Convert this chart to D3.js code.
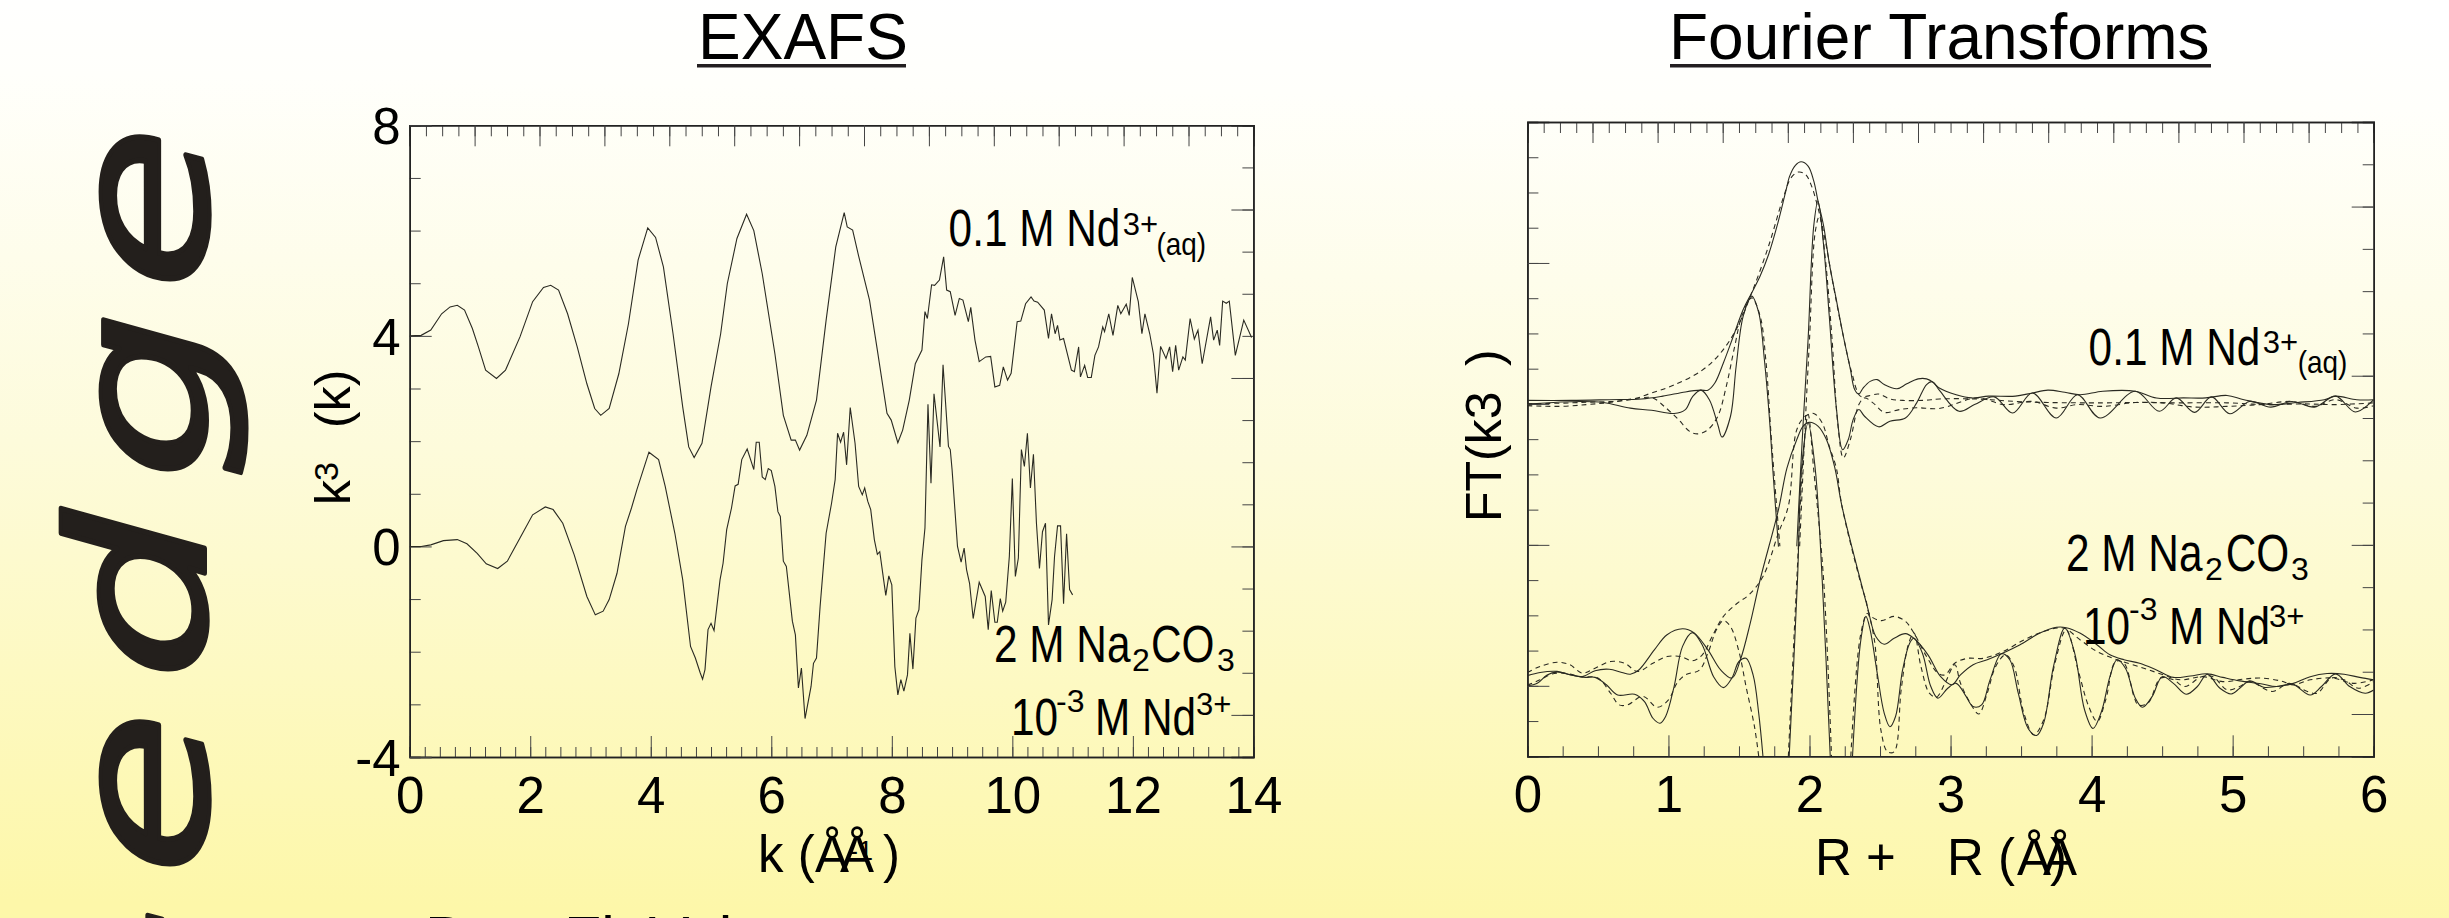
<!DOCTYPE html>
<html>
<head>
<meta charset="utf-8">
<script src="https://cdnjs.cloudflare.com/ajax/libs/d3/7.8.5/d3.min.js"></script>
<style>
html, body {margin: 0; padding: 0; background: #fff; overflow: hidden;}
svg {display: block;}
text {font-family: "Liberation Sans", Arial, sans-serif; fill: #000;}
.axis path {stroke: #222; stroke-width: 1.5; fill: none;}
.axis line {stroke: #444; stroke-width: 1;}
.axis text {font-size: 51px; font-family: "Liberation Sans", Arial, sans-serif; fill: #000;}
.curve {fill: none; stroke: #2a2a22; stroke-width: 1.1;}
.curve.dash {stroke-dasharray: 5 4;}
</style>
</head>
<body>
<div id="chart"></div>
<script>
// EXAFS ticks
var exafsXTicks = [0, 2, 4, 6, 8, 10, 12, 14];
var exafsYTicks = [-4, 0, 4, 8];
// FT ticks (R axis only is labelled)
var ftXTicks = [0, 1, 2, 3, 4, 5, 6];

// 0.1 M Nd3+(aq), k vs k3 chi(k)
var exafsAq = [[0,4],[.19,4.01],[.35,4.11],[.53,4.42],[.67,4.55],[.79,4.58],[.91,4.49],[1.04,4.14],[1.14,3.79],[1.26,3.35],[1.44,3.19],[1.59,3.35],[1.83,3.98],[2.04,4.65],[2.22,4.92],[2.34,4.96],[2.47,4.87],[2.62,4.42],[2.78,3.79],[2.94,3.09],[3.07,2.62],[3.17,2.49],[3.31,2.62],[3.47,3.28],[3.63,4.23],[3.79,5.44],[3.95,6.05],[4.08,5.87],[4.21,5.31],[4.37,4.04],[4.53,2.65],[4.63,1.89],[4.72,1.69],[4.85,1.96],[5,3.03],[5.16,4.04],[5.27,4.99],[5.43,5.85],[5.59,6.31],[5.71,6],[5.85,5.18],[6.06,3.66],[6.2,2.49],[6.33,2.02],[6.4,2.02],[6.47,1.83],[6.59,2.11],[6.75,2.78],[6.91,4.3],[7.07,5.69],[7.21,6.34],[7.26,6.07],[7.35,6.01],[7.44,5.56],[7.63,4.68],[7.76,3.73],[7.92,2.53],[7.99,2.4],[8.1,1.97],[8.18,2.21],[8.29,2.78],[8.39,3.47],[8.5,3.73],[8.55,4.46],[8.59,4.33],[8.66,4.97],[8.71,4.96],[8.79,5.06],[8.86,5.5],[8.91,4.87],[8.97,4.84],[9.05,4.39],[9.12,4.71],[9.18,4.68],[9.27,4.27],[9.31,4.54],[9.38,3.92],[9.45,3.51],[9.56,3.6],[9.64,3.61],[9.71,3.03],[9.79,3.06],[9.85,3.41],[9.92,3.16],[9.98,3.29],[10.08,4.27],[10.14,4.28],[10.22,4.61],[10.31,4.74],[10.36,4.66],[10.42,4.64],[10.53,4.49],[10.6,3.95],[10.65,4.42],[10.71,4.04],[10.75,4.2],[10.79,3.92],[10.85,3.95],[10.98,3.35],[11.03,3.32],[11.1,3.79],[11.13,3.22],[11.2,3.44],[11.25,3.21],[11.31,3.21],[11.37,3.63],[11.43,3.79],[11.5,4.17],[11.53,4.08],[11.6,4.42],[11.67,4.01],[11.75,4.58],[11.8,4.42],[11.89,4.6],[11.94,4.39],[11.99,5.11],[12.09,4.65],[12.15,4.04],[12.2,4.42],[12.28,4.04],[12.34,3.66],[12.4,2.91],[12.46,3.8],[12.55,3.57],[12.61,3.79],[12.66,3.32],[12.71,3.82],[12.76,3.35],[12.83,3.6],[12.87,3.54],[12.95,4.33],[13.02,3.94],[13.08,4.11],[13.15,3.47],[13.29,4.36],[13.34,3.92],[13.4,4.11],[13.44,3.82],[13.49,4.66],[13.55,4.62],[13.6,4.66],[13.7,3.63],[13.84,4.3],[13.97,3.97]];

// 2 M Na2CO3 / 10-3 M Nd3+
var exafsCarb = [[0,0],[.19,0],[.35,.03],[.56,.11],[.79,.13],[.95,.05],[1.12,-.13],[1.27,-.33],[1.46,-.42],[1.62,-.28],[1.83,.16],[2.04,.6],[2.25,.75],[2.38,.7],[2.54,.44],[2.73,-.16],[2.94,-.95],[3.08,-1.3],[3.21,-1.23],[3.31,-1.01],[3.44,-.51],[3.58,.38],[3.68,.73],[3.77,1.08],[3.97,1.79],[4.13,1.65],[4.24,1.14],[4.4,.25],[4.53,-.63],[4.66,-1.9],[4.74,-2.12],[4.82,-2.4],[4.86,-2.52],[4.9,-2.34],[4.95,-1.58],[5,-1.46],[5.05,-1.6],[5.15,-.63],[5.2,-.32],[5.26,.32],[5.34,.73],[5.4,1.15],[5.45,1.18],[5.51,1.65],[5.6,1.85],[5.71,1.46],[5.75,1.98],[5.8,1.98],[5.85,1.32],[5.9,1.27],[5.95,1.48],[6,1.44],[6.06,1.14],[6.11,.66],[6.15,.57],[6.2,-.28],[6.25,-.38],[6.35,-1.42],[6.4,-1.68],[6.45,-2.69],[6.5,-2.31],[6.56,-3.27],[6.66,-2.66],[6.7,-2.22],[6.75,-2.12],[6.81,-1.14],[6.86,-.44],[6.91,.25],[7,.82],[7.06,1.27],[7.1,2.15],[7.15,1.98],[7.2,2.17],[7.25,1.55],[7.31,2.64],[7.39,1.96],[7.45,1.14],[7.51,.98],[7.55,1.11],[7.6,.86],[7.65,.7],[7.71,.13],[7.76,-.15],[7.8,-.1],[7.9,-.93],[7.95,-.56],[8,-.73],[8.05,-2.28],[8.1,-2.82],[8.15,-2.53],[8.2,-2.75],[8.26,-2.44],[8.3,-1.65],[8.35,-2.33],[8.4,-1.36],[8.45,-1.2],[8.5,-.25],[8.55,.35],[8.6,2.7],[8.65,1.2],[8.7,2.9],[8.8,1.89],[8.85,3.45],[8.94,1.9],[8.97,1.84],[9,1.46],[9.09,0],[9.15,-.3],[9.2,-.03],[9.24,-.44],[9.29,-.7],[9.35,-1.37],[9.45,-.68],[9.55,-.95],[9.6,-1.58],[9.65,-.84],[9.71,-1.44],[9.75,-1.44],[9.8,-.99],[9.84,-1.23],[9.89,-1.06],[9.95,-.19],[10,1.29],[10.05,-.57],[10.1,-.22],[10.15,1.84],[10.2,1.52],[10.25,2.15],[10.3,1.11],[10.35,1.75],[10.4,.44],[10.45,-.42],[10.5,.28],[10.55,.44],[10.6,-1.49],[10.66,-1.01],[10.7,-.19],[10.75,.39],[10.8,.39],[10.85,-1.09],[10.9,.24],[10.95,-.82],[11,-.92]];

// FT of the aqueous sample: magnitude and imaginary part, data (solid) and fit (dashed)
var ftAqMag = [[0,10.1],[.31,10.1],[.58,10.12],[.81,10.14],[.96,10.22],[1.12,10.34],[1.23,10.39],[1.28,10.39],[1.33,10.6],[1.39,11.17],[1.46,11.92],[1.53,12.68],[1.59,13.15],[1.65,13.63],[1.71,14.24],[1.77,15.05],[1.83,16],[1.86,16.47],[1.9,16.77],[1.94,16.87],[1.99,16.75],[2.03,16.33],[2.06,15.76],[2.1,15.05],[2.14,14],[2.19,12.96],[2.24,11.92],[2.29,10.98],[2.32,10.41],[2.35,10.28],[2.38,10.45],[2.43,10.64],[2.48,10.69],[2.53,10.55],[2.62,10.43],[2.69,10.57],[2.77,10.71],[2.83,10.71],[2.88,10.6],[2.92,10.45],[3.04,10.26],[3.15,10.17],[3.27,10.22],[3.46,10.22],[3.58,10.31],[3.69,10.39],[3.81,10.33],[3.92,10.26],[4.08,10.36],[4.31,10.36],[4.46,10.17],[4.65,10.17],[4.81,10.17],[4.96,10.24],[5.08,10.12],[5.27,9.98],[5.46,10.04],[5.65,10.12],[5.73,10.22],[5.88,10.12],[6,10.12]];
var ftAqImag = [[0,10],[.38,10.07],[.54,10.04],[.73,9.88],[.88,9.82],[1.04,9.73],[1.12,9.84],[1.17,10.2],[1.23,10.39],[1.29,10.12],[1.35,9.41],[1.38,9.06],[1.44,9.65],[1.48,11.07],[1.53,12.49],[1.59,13.06],[1.64,12.59],[1.68,11.26],[1.72,9.37],[1.74,8.13],[1.78,5.95],[1.85,null],[1.91,5.96],[1.93,7.6],[1.955,9.46],[1.99,11.83],[2.03,15.05],[2.06,15.76],[2.1,14.5],[2.14,12.5],[2.19,9.9],[2.235,8.7],[2.275,8.99],[2.31,9.56],[2.35,9.84],[2.39,9.65],[2.49,9.35],[2.57,9.51],[2.68,9.6],[2.76,10.03],[2.83,10.55],[2.87,10.63],[2.92,10.39],[3.06,9.79],[3.17,9.98],[3.31,10.2],[3.44,9.74],[3.58,10.31],[3.75,9.6],[3.9,10.26],[4.06,9.6],[4.31,10.36],[4.48,9.79],[4.6,10.17],[4.73,9.76],[4.85,10.2],[4.98,9.72],[5.12,10.07],[5.27,9.91],[5.42,10.07],[5.58,9.91],[5.73,10.22],[5.87,9.77],[6,10.12]];
var ftAqMagFit = [[0,10],[.38,10.04],[.73,10.12],[.88,10.31],[1.03,10.52],[1.23,10.93],[1.36,11.4],[1.48,12.11],[1.59,13.15],[1.71,14.48],[1.81,15.8],[1.87,16.42],[1.92,16.58],[1.97,16.52],[2.01,16.23],[2.06,15.57],[2.11,14.67],[2.17,13.34],[2.24,11.92],[2.3,10.88],[2.36,10.22],[2.41,10.22],[2.49,10.28],[2.57,10.14],[2.66,10.1],[2.81,10.1],[2.92,10.14],[3.19,10.14],[3.46,10.07],[3.69,10.04],[4.08,10.03],[4.35,10.04],[4.62,10.03],[4.96,10.03],[5.23,9.98],[5.5,10],[5.73,9.98],[6,10.03]];
var ftAqImagFit = [[0,9.95],[.23,9.93],[.42,9.98],[.58,10.04],[.8,10.17],[.89,10.17],[.97,9.93],[1.07,9.56],[1.15,9.22],[1.21,9.15],[1.28,9.27],[1.35,9.65],[1.41,10.5],[1.47,11.64],[1.52,12.49],[1.59,13.01],[1.65,12.49],[1.69,11.26],[1.73,8.99],[1.79,5.96],[1.86,null],[1.93,5.96],[1.97,9.46],[2,11.83],[2.04,14.86],[2.07,15.33],[2.11,14.2],[2.16,11.83],[2.2,9.46],[2.24,8.47],[2.29,8.99],[2.35,9.98],[2.39,10.17],[2.45,10.03],[2.53,9.76],[2.64,9.84],[2.76,9.89],[2.92,9.87],[3.19,10.17],[3.38,9.98],[3.58,10.07],[3.75,9.88],[3.9,9.98],[4.08,9.93],[4.31,10.04],[4.5,10.03],[4.73,9.91],[4.96,9.93],[5.19,9.98],[5.42,10.07],[5.58,9.93],[5.73,10.12],[5.88,9.88],[6,9.95]];

// FT of the carbonate sample
var ftCarbMag = [[0,2.29],[.09,2.38],[.21,2.41],[.31,2.31],[.39,2.26],[.48,2.43],[.58,2.47],[.67,2.38],[.73,2.33],[.79,2.45],[.9,3.02],[.99,3.45],[1.1,3.62],[1.18,3.51],[1.28,3.02],[1.37,2.45],[1.45,2.22],[1.51,2.74],[1.58,3.78],[1.65,5.01],[1.78,7],[1.84,8.18],[1.91,8.99],[1.955,9.37],[2,9.48],[2.06,9.37],[2.12,8.99],[2.18,8.18],[2.23,7.1],[2.36,5.01],[2.41,4.25],[2.47,3.4],[2.53,3.18],[2.6,3.35],[2.68,3.48],[2.74,3.35],[2.84,2.88],[2.93,2.26],[3.01,2.03],[3.07,2.31],[3.16,2.6],[3.26,2.74],[3.36,2.91],[3.49,3.16],[3.63,3.49],[3.75,3.66],[3.82,3.65],[3.92,3.49],[4.04,3.16],[4.13,2.88],[4.23,2.74],[4.34,2.64],[4.46,2.45],[4.58,2.24],[4.7,2.28],[4.82,2.34],[4.93,2.24],[5.05,2.14],[5.2,2.06],[5.31,1.98],[5.43,2.07],[5.55,2.26],[5.67,2.35],[5.79,2.33],[5.9,2.24],[6,2.17]];
var ftCarbImag = [[0,2],[.07,2.07],[.14,2.31],[.21,2.39],[.31,2.31],[.41,2.24],[.48,2.24],[.56,2.03],[.64,1.74],[.76,1.76],[.83,1.55],[.89,1.08],[.94,.94],[.98,1.13],[1.04,1.98],[1.1,3.12],[1.17,3.51],[1.24,3.16],[1.32,2.26],[1.39,1.95],[1.45,2.22],[1.5,2.69],[1.55,2.78],[1.6,2.31],[1.64,1.22],[1.67,0],[1.75,null],[1.856,0],[1.915,5.01],[1.944,8.18],[1.99,9.46],[2.04,8.18],[2.09,5.01],[2.147,0],[2.22,null],[2.305,0],[2.364,3.3],[2.4,3.97],[2.43,3.59],[2.48,2.36],[2.53,1.22],[2.57,.84],[2.61,1.13],[2.66,2.45],[2.71,3.21],[2.74,3.35],[2.8,2.93],[2.86,1.98],[2.91,1.65],[2.98,1.93],[3.04,2.07],[3.11,1.7],[3.16,1.41],[3.22,1.46],[3.28,2.17],[3.36,2.91],[3.42,2.74],[3.48,1.79],[3.55,.79],[3.61,.59],[3.66,.94],[3.73,2.55],[3.81,3.64],[3.88,2.93],[3.95,1.32],[4.01,.79],[4.07,1.27],[4.13,2.26],[4.18,2.74],[4.24,2.5],[4.31,1.65],[4.36,1.39],[4.43,1.7],[4.5,2.26],[4.58,2.07],[4.67,1.76],[4.75,1.98],[4.82,2.33],[4.91,1.93],[4.99,1.77],[5.05,1.93],[5.12,2.14],[5.22,1.96],[5.31,1.98],[5.43,2.03],[5.55,1.74],[5.63,1.98],[5.73,2.34],[5.83,1.98],[5.94,1.79],[6,1.88]];
var ftCarbMagFit = [[0,2.38],[.09,2.55],[.21,2.67],[.3,2.6],[.39,2.36],[.48,2.5],[.59,2.69],[.69,2.64],[.78,2.41],[.89,2.64],[.99,2.83],[1.09,2.83],[1.17,2.71],[1.24,2.88],[1.31,3.4],[1.39,3.97],[1.49,4.35],[1.57,4.58],[1.67,5.1],[1.78,6.34],[1.85,7.1],[1.91,9.27],[1.97,9.65],[2.03,9.73],[2.09,9.46],[2.14,8.8],[2.19,8.18],[2.23,7.1],[2.37,4.82],[2.4,4.44],[2.43,4],[2.51,3.85],[2.6,3.97],[2.68,3.83],[2.74,3.5],[2.83,2.83],[2.91,2.36],[2.96,2.31],[3.03,2.64],[3.12,2.78],[3.23,2.78],[3.37,2.97],[3.52,3.3],[3.66,3.54],[3.8,3.64],[3.92,3.3],[4.04,2.97],[4.18,2.74],[4.37,2.5],[4.51,2.31],[4.63,2.17],[4.79,2.26],[4.93,2.12],[5.08,2.19],[5.2,2.22],[5.34,2.14],[5.43,2.03],[5.55,2.17],[5.71,2.22],[5.86,2.07],[6,2.17]];
var ftCarbImagFit = [[0,2.02],[.09,2.17],[.17,2.33],[.26,2.36],[.38,2.26],[.5,2.22],[.59,1.79],[.65,1.46],[.71,1.46],[.82,1.7],[.92,1.39],[1,1.6],[1.06,2.07],[1.12,2.31],[1.22,2.45],[1.28,2.93],[1.34,3.59],[1.39,3.85],[1.44,3.68],[1.5,2.97],[1.55,1.98],[1.61,.84],[1.64,0],[1.75,null],[1.85,0],[1.91,5.01],[1.955,8.5],[1.99,9.7],[2.03,8.13],[2.1,5.01],[2.156,0],[2.22,null],[2.293,0],[2.36,3.4],[2.41,4.06],[2.46,3.3],[2.506,.75],[2.553,.13],[2.6,.13],[2.65,1.89],[2.7,3.16],[2.74,3.5],[2.79,2.55],[2.85,1.79],[2.9,1.68],[2.96,2.07],[3.03,2.6],[3.07,2.08],[3.14,1.51],[3.2,1.2],[3.26,1.79],[3.32,2.55],[3.39,2.88],[3.45,2.55],[3.52,1.22],[3.59,.61],[3.66,1.03],[3.74,2.64],[3.82,3.59],[3.91,2.36],[3.98,1.41],[4.04,.99],[4.1,1.6],[4.17,2.69],[4.23,2.64],[4.3,1.7],[4.33,1.46],[4.4,1.51],[4.49,2.22],[4.58,2.17],[4.66,1.98],[4.78,2.26],[4.86,2.26],[4.96,1.89],[5.05,1.98],[5.12,2.12],[5.28,1.84],[5.4,2.07],[5.53,1.84],[5.6,1.79],[5.7,2.22],[5.79,2.17],[5.89,1.93],[6,2.12]];

var width = 2449, height = 918;
var svg = d3.select('#chart').append('svg')
    .attr('width', width)
    .attr('height', height);

var defs = svg.append('defs');
var grad = defs.append('linearGradient')
    .attr('id', 'bg')
    .attr('x1', 0.52).attr('y1', 0)
    .attr('x2', 0.48).attr('y2', 1);
grad.append('stop').attr('offset', '0').attr('stop-color', '#ffffff');
grad.append('stop').attr('offset', '0.1').attr('stop-color', '#fffffb');
grad.append('stop').attr('offset', '0.5').attr('stop-color', '#fdfbdb');
grad.append('stop').attr('offset', '1').attr('stop-color', '#fdf7a9');

svg.append('rect')
    .attr('width', width)
    .attr('height', height)
    .attr('fill', 'url(#bg)');

// string concat for translate
function translation(x, y) {
    return 'translate(' + x + ',' + y + ')';
}

// horizontal text, narrowed by sx like the stretched labels of the slide
function label(x, y, str, size, sx) {
    svg.append('text')
        .attr('transform', translation(x, y) + ' scale(' + (sx || 1) + ',1)')
        .style('font-size', size + 'px')
        .text(str);
}

// text reading bottom to top
function sideLabel(x, y, str, size) {
    svg.append('text')
        .attr('transform', translation(x, y) + ' rotate(-90)')
        .style('font-size', size + 'px')
        .text(str);
}

// frame with ticks on all four sides. Top and right carry their own tick spacing
function frame(opts) {
    var x = opts.x, y = opts.y;
    var left = x.range()[0], right = x.range()[1];
    var top = y.range()[1], bottom = y.range()[0];

    var topScale = d3.scaleLinear().domain([0, 13]).range([left, right]);
    var rightScale = d3.scaleLinear().domain(y.domain()).range([bottom, top]);
    var g = svg.append('g').attr('class', 'axis');

    // minor ticks first
    g.append('g').attr('transform', translation(0, bottom))
        .call(d3.axisBottom(x).tickValues(opts.xMinor).tickSize(-10).tickFormat(''));
    g.append('g').attr('transform', translation(0, top))
        .call(d3.axisTop(topScale).tickValues(d3.range(0, 13.01, 0.25)).tickSize(-11).tickFormat(''));
    g.append('g').attr('transform', translation(left, 0))
        .call(d3.axisLeft(y).tickValues(opts.yMinor).tickSize(-11).tickFormat(''));
    g.append('g').attr('transform', translation(right, 0))
        .call(d3.axisRight(rightScale).tickValues(opts.rightMinor).tickSize(-11).tickFormat(''));

    // long ticks and labels
    g.append('g').attr('transform', translation(0, bottom))
        .call(d3.axisBottom(x).tickValues(opts.xTicks).tickSize(-21).tickPadding(opts.xPad).tickSizeOuter(0).tickFormat(d3.format('d')))
        .selectAll('text').attr('dy', '0.71em');
    g.append('g').attr('transform', translation(0, top))
        .call(d3.axisTop(topScale).tickValues(d3.range(0, 13.01, 1)).tickSize(-21).tickFormat(''));
    var la = g.append('g').attr('transform', translation(left, 0))
        .call(d3.axisLeft(y).tickValues(opts.yMajor).tickSize(-22).tickPadding(9).tickFormat(opts.yFormat));
    la.selectAll('text').attr('dy', '0.36em');
    g.append('g').attr('transform', translation(right, 0))
        .call(d3.axisRight(rightScale).tickValues(opts.rightMajor).tickSize(-22).tickFormat(''));
}

function drawCurves(x, y, id, list) {
    var left = x.range()[0], right = x.range()[1];
    var top = y.range()[1], bottom = y.range()[0];
    defs.append('clipPath').attr('id', id)
        .append('rect')
        .attr('x', left).attr('y', top)
        .attr('width', right - left).attr('height', bottom - top);
    var g = svg.append('g').attr('clip-path', 'url(#' + id + ')');
    list.forEach(function(c) {
        var line = d3.line()
            .defined(function(d) { return d[1] !== null; })
            .x(function(d) { return x(d[0]); })
            .y(function(d) { return y(d[1]); })
            .curve(c.smooth ? d3.curveCatmullRom.alpha(0.5) : d3.curveLinear);
        g.append('path')
            .attr('class', 'curve' + (c.dash ? ' dash' : ''))
            .attr('d', line(c.data));
    });
}

// ---- EXAFS panel
var xExafs = d3.scaleLinear().domain([0, 14]).range([409.7, 1253.4]);
var yExafs = d3.scaleLinear().domain([-4, 8]).range([757, 125.3]);
frame({
    x: xExafs, y: yExafs,
    xTicks: exafsXTicks, xPad: 20,
    xMinor: d3.range(0, 14.01, 0.25),
    yMajor: exafsYTicks,
    yMinor: d3.range(-4, 8.01, 1),
    yFormat: function(d) { return d; },
    rightMajor: [-3.2, 0, 3.2, 6.4],
    rightMinor: d3.range(-3.2, 7.3, 0.8)
});
drawCurves(xExafs, yExafs, 'clip-exafs', [
    {data: exafsAq},
    {data: exafsCarb}
]);

// ---- Fourier transform panel. No values on the y axis: units are the left tick spacing
var xFt = d3.scaleLinear().domain([0, 6]).range([1527.4, 2373.7]);
var yFt = d3.scaleLinear().domain([0, 18]).range([756.3, 122]);
frame({
    x: xFt, y: yFt,
    xTicks: ftXTicks, xPad: 19,
    xMinor: d3.range(0, 6.01, 0.25),
    yMajor: [2, 6, 10, 14],
    yMinor: d3.range(1, 18, 1),
    yFormat: '',
    rightMajor: [1.2, 6, 10.8, 15.6],
    rightMinor: d3.range(1.2, 17, 1.2)
});
drawCurves(xFt, yFt, 'clip-ft', [
    {data: ftAqMag, smooth: true},
    {data: ftAqImag, smooth: true},
    {data: ftAqMagFit, smooth: true, dash: true},
    {data: ftAqImagFit, smooth: true, dash: true},
    {data: ftCarbMag, smooth: true},
    {data: ftCarbImag, smooth: true},
    {data: ftCarbMagFit, smooth: true, dash: true},
    {data: ftCarbImagFit, smooth: true, dash: true}
]);

// ---- titles
label(698, 59, 'EXAFS', 64);
label(1669, 59, 'Fourier Transforms', 64);
svg.selectAll('.title-line')
    .data([[697, 906], [1670, 2211]])
    .enter().append('line')
    .attr('x1', function(d) { return d[0]; })
    .attr('x2', function(d) { return d[1]; })
    .attr('y1', 65.7).attr('y2', 65.7)
    .attr('stroke', '#231f20')
    .attr('stroke-width', 3.4);

// ---- curve labels, left panel
var sx = 0.83;
label(948.6, 246, '0.1 M Nd', 51, sx);
label(1122.7, 235, '3+', 31);
label(1156.5, 255, '(aq)', 31, 0.9);
label(994, 661.7, '2 M Na', 51, sx);
label(1132, 671, '2', 32);
label(1151, 661.7, 'CO', 51, sx);
label(1217, 671, '3', 32);
label(1011, 735, '10', 51, sx);
label(1056, 712, '-3', 32);
label(1095, 735, 'M Nd', 51, sx);
label(1196, 715, '3+', 31);

// ---- curve labels, right panel
label(2088.6, 365, '0.1 M Nd', 51, sx);
label(2262.7, 353, '3+', 31);
label(2297.8, 373, '(aq)', 31, 0.9);
label(2066, 570.7, '2 M Na', 51, sx);
label(2205, 580, '2', 32);
label(2225.7, 570.7, 'CO', 51, sx);
label(2291, 580, '3', 32);
label(2083, 644, '10', 51, sx);
label(2129, 620, '-3', 32);
label(2169, 644, 'M Nd', 51, sx);
label(2269, 627, '3+', 31);

// ---- axis titles, the A-ring glyphs overlap in the slide
label(758, 872, 'k (', 51);
label(815, 872, 'Å', 51);
label(840, 872, 'Å', 51);
label(849, 860, '-1', 27);
label(883, 872, ')', 51);

label(1815, 875, 'R +', 51);
label(1947, 875, 'R (', 51);
label(2017, 875, 'Å', 51);
label(2043, 875, 'Å', 51);
label(2050, 875, ')', 51);

sideLabel(350, 505, 'k', 50);
sideLabel(338, 481, '3', 34);
sideLabel(350, 428, '(k)', 50);

sideLabel(1500.6, 522, 'FT(k3', 50);
sideLabel(1500.6, 366, ')', 50);

// ---- big sideways word of the slide, cut by the window at the bottom
var bigLetters = [
    {t: '-', y: 1003, base: 207},
    {t: 'e', y: 876, base: 207},
    {t: 'd', y: 681, base: 205},
    {t: 'g', y: 481, base: 207},
    {t: 'e', y: 291, base: 207}
];
bigLetters.forEach(function(d) {
    svg.append('text')
        .attr('transform', translation(d.base, d.y) + ' rotate(-90) scale(1.42,1)')
        .style('font-family', '"DejaVu Sans", sans-serif')
        .style('font-style', 'italic')
        .style('font-size', '190px')
        .style('fill', '#231f1c')
        .style('stroke', '#231f1c')
        .style('stroke-width', '4px')
        .style('stroke-linejoin', 'round')
        .text(d.t);
});

label(425, 959, 'Best Fit Val', 61);
</script>
</body>
</html>
